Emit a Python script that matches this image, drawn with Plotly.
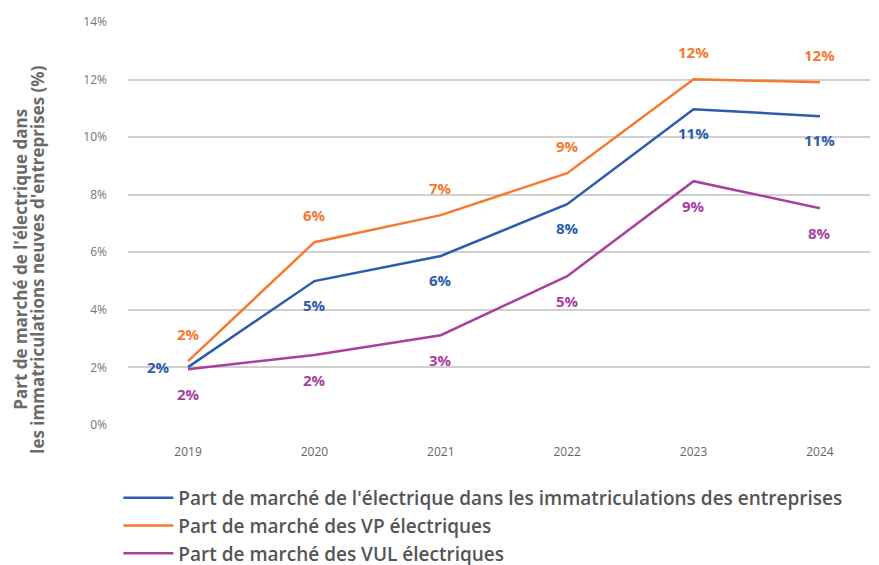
import plotly.graph_objects as go

years = ["2019", "2020", "2021", "2022", "2023", "2024"]
total = [2.01, 5.0, 5.87, 7.67, 10.97, 10.73]
vp = [2.22, 6.35, 7.29, 8.75, 12.01, 11.91]
vul = [1.94, 2.43, 3.12, 5.17, 8.47, 7.53]
total_labels = ["2%", "5%", "6%", "8%", "11%", "11%"]
vp_labels = ["2%", "6%", "7%", "9%", "12%", "12%"]
vul_labels = ["2%", "2%", "3%", "5%", "9%", "8%"]
names = [
    "Part de marché de l'électrique dans les immatriculations des entreprises",
    "Part de marché des VP électriques",
    "Part de marché des VUL électriques",
]
title_lines = ["Part de marché de l'électrique dans",
               "les immatriculations neuves d'entreprises (%)"]
colors = ["#2b5cae", "#f7782f", "#a8409f"]

fig = go.Figure()
series = [(total, total_labels), (vp, vp_labels), (vul, vul_labels)]
for (vals, labs), name, col in zip(series, names, colors):
    fig.add_trace(go.Scatter(x=years, y=vals, mode="lines", name=name,
                             line=dict(color=col, width=2.5)))

font = "Open Sans"
def add_labels(vals, labs, col, offset, xshift_first=0):
    for i, (v, t) in enumerate(zip(vals, labs)):
        xs = 0
        yoff = offset
        if xshift_first and i == 0:
            xs = xshift_first
            yoff = 0
        fig.add_annotation(x=i, y=v, text="<b>%s</b>" % t, showarrow=False,
                           xshift=xs, yshift=yoff,
                           font=dict(family=font, size=15, color=col))

add_labels(total, total_labels, colors[0], -24, xshift_first=-30)
add_labels(vp, vp_labels, colors[1], 27)
add_labels(vul, vul_labels, colors[2], -25)

for k, line in enumerate(title_lines):
    fig.add_annotation(xref="paper", yref="paper", x=0, xanchor="center",
                       xshift=-107 + 17 * k, y=0.41, yanchor="middle",
                       textangle=-90, showarrow=False, text="<b>%s</b>" % line,
                       font=dict(family=font, size=17, color="#6a6a6a"))

fig.update_layout(
    width=879, height=565,
    margin=dict(l=120, r=17, t=14, b=148, autoexpand=False),
    plot_bgcolor="white", paper_bgcolor="white",
    font=dict(family=font, color="#666666"),
    showlegend=True,
    legend=dict(orientation="v", x=-0.013, xanchor="left", y=-0.134, yanchor="top",
                font=dict(size=19, color="#555555", weight=600), itemwidth=50,
                tracegroupgap=0),
    xaxis=dict(type="category", range=[-0.475, 5.396], showgrid=False,
               showline=False, ticks="", ticklabelstandoff=18,
               tickfont=dict(size=12, color="#666666")),
    yaxis=dict(range=[0, 14], dtick=2, ticksuffix="%", showgrid=True,
               gridcolor="#d0d0d0", gridwidth=1.5, zeroline=False,
               tickfont=dict(size=12, color="#777777"), ticklabelstandoff=20),
)

fig.write_html("out.html")
